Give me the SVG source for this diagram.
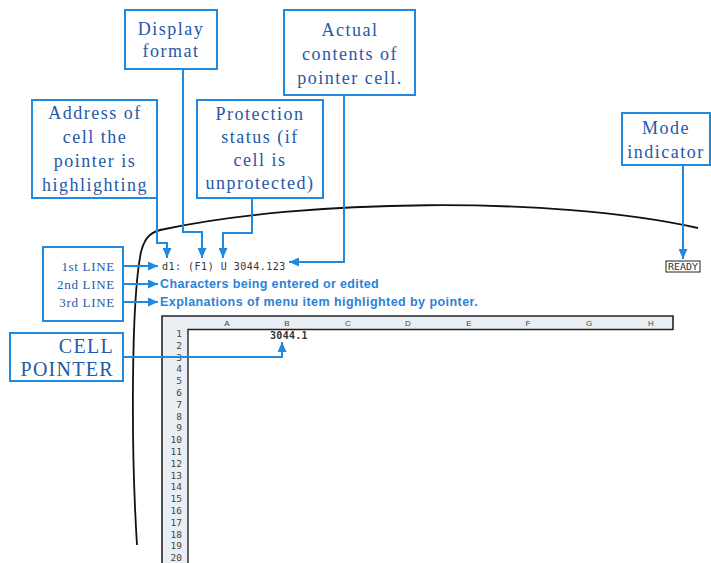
<svg xmlns="http://www.w3.org/2000/svg" width="711" height="563" viewBox="0 0 711 563">
<style>
.box{fill:#fff;stroke:#1f8ae0;stroke-width:2}
.lbl{font-family:"Liberation Serif","DejaVu Serif",serif;font-size:18px;letter-spacing:1.5px;fill:#2558a6;text-anchor:middle}
.ln{font-family:"Liberation Serif",serif;font-size:13px;letter-spacing:0.7px;fill:#2558a6;text-anchor:end}
.cp{font-family:"Liberation Serif",serif;font-size:20px;letter-spacing:1.3px;fill:#2558a6;text-anchor:end}
.con{fill:none;stroke:#1f8ae0;stroke-width:2}
.mono{font-family:"DejaVu Sans Mono","Liberation Mono",monospace;fill:#333}
.blue{font-family:"Liberation Sans",Arial,sans-serif;font-weight:bold;font-size:12.5px;letter-spacing:0.35px;fill:#2a82d6}
.col{font-family:"Liberation Sans",Arial,sans-serif;font-size:8px;fill:#444;text-anchor:middle}
.row{font-family:"DejaVu Sans Mono",monospace;font-size:9.5px;fill:#444;text-anchor:end}
</style>
<defs>
<marker id="ah" markerUnits="userSpaceOnUse" markerWidth="10" markerHeight="9" refX="10" refY="4.5" orient="auto">
<path d="M0,0 L10,4.5 L0,9 z" fill="#1f8ae0"/>
</marker>
</defs>
<rect width="711" height="563" fill="#fff"/>

<!-- screen edge -->
<path d="M137 545 C131 450 131 300 141 252 C145 236 152 231 165 229 C300 200 550 195 698 228" fill="none" stroke="#111" stroke-width="1.8"/>

<!-- spreadsheet -->
<g id="sheet">
<rect x="162" y="316" width="511" height="13.5" fill="#e9eef4"/>
<rect x="162" y="316" width="26" height="250" fill="#e9eef4"/>
<path d="M162 563 V316 H673 V330" fill="none" stroke="#222" stroke-width="1.6"/>
<path d="M188 563 V329.5 H673" fill="none" stroke="#222" stroke-width="1.4"/>
<text class="col" x="227" y="326">A</text>
<text class="col" x="287" y="326">B</text>
<text class="col" x="348" y="326">C</text>
<text class="col" x="408" y="326">D</text>
<text class="col" x="469" y="326">E</text>
<text class="col" x="528" y="326">F</text>
<text class="col" x="589" y="326">G</text>
<text class="col" x="651" y="326">H</text>
<text class="row" x="182" y="337">1</text>
<text class="row" x="182" y="348.8">2</text>
<text class="row" x="182" y="360.6">3</text>
<text class="row" x="182" y="372.4">4</text>
<text class="row" x="182" y="384.2">5</text>
<text class="row" x="182" y="396">6</text>
<text class="row" x="182" y="407.8">7</text>
<text class="row" x="182" y="419.6">8</text>
<text class="row" x="182" y="431.4">9</text>
<text class="row" x="182" y="443.2">10</text>
<text class="row" x="182" y="455">11</text>
<text class="row" x="182" y="466.8">12</text>
<text class="row" x="182" y="478.6">13</text>
<text class="row" x="182" y="490.4">14</text>
<text class="row" x="182" y="502.2">15</text>
<text class="row" x="182" y="514">16</text>
<text class="row" x="182" y="525.8">17</text>
<text class="row" x="182" y="537.6">18</text>
<text class="row" x="182" y="549.4">19</text>
<text class="row" x="182" y="561">20</text>
<text class="mono" x="270" y="339" font-size="10" letter-spacing="0.3" font-weight="bold">3044.1</text>
</g>

<!-- control panel lines -->
<text class="mono" x="162" y="270" font-size="10" letter-spacing="0.5">d1: (F1) U 3044.123</text>
<text class="blue" x="160" y="288" textLength="219">Characters being entered or edited</text>
<text class="blue" x="160" y="306" textLength="318">Explanations of menu item highlighted by pointer.</text>
<g id="ready">
<rect x="666" y="261" width="34" height="11" fill="#fff" stroke="#222" stroke-width="1"/>
<text class="mono" x="668" y="270" font-size="9" textLength="30" lengthAdjust="spacingAndGlyphs">READY</text>
</g>

<!-- connectors -->
<g id="connectors">
<path class="con" d="M157 198 V243 H167 V258" marker-end="url(#ah)"/>
<path class="con" d="M183 69 V232 H202 V258" marker-end="url(#ah)"/>
<path class="con" d="M252 198 V233 H223 V258" marker-end="url(#ah)"/>
<path class="con" d="M344 95 V262 H289" marker-end="url(#ah)"/>
<path class="con" d="M683 165 V259" marker-end="url(#ah)"/>
<path class="con" d="M123 266 H158" marker-end="url(#ah)"/>
<path class="con" d="M123 284 H158" marker-end="url(#ah)"/>
<path class="con" d="M123 302 H158" marker-end="url(#ah)"/>
<path class="con" d="M123 357 H282 V342" marker-end="url(#ah)"/>
</g>

<!-- nodes -->
<g id="display-format">
<rect class="box" x="125" y="10" width="92" height="59"/>
<text class="lbl" x="171" y="35">Display</text>
<text class="lbl" x="171" y="57">format</text>
</g>
<g id="actual-contents">
<rect class="box" x="284" y="10" width="131" height="85"/>
<text class="lbl" x="350" y="36">Actual</text>
<text class="lbl" x="350" y="60">contents of</text>
<text class="lbl" x="350" y="84">pointer cell.</text>
</g>
<g id="address">
<rect class="box" x="32" y="100" width="125" height="98"/>
<text class="lbl" x="95" y="119">Address of</text>
<text class="lbl" x="95" y="143">cell the</text>
<text class="lbl" x="95" y="167">pointer is</text>
<text class="lbl" x="95" y="191">highlighting</text>
</g>
<g id="protection">
<rect class="box" x="197" y="100" width="126" height="98"/>
<text class="lbl" x="260" y="120">Protection</text>
<text class="lbl" x="260" y="143">status (if</text>
<text class="lbl" x="260" y="166">cell is</text>
<text class="lbl" x="260" y="189">unprotected)</text>
</g>
<g id="mode-indicator">
<rect class="box" x="622" y="113" width="88" height="52"/>
<text class="lbl" x="666" y="134">Mode</text>
<text class="lbl" x="666" y="158">indicator</text>
</g>
<g id="lines">
<rect class="box" x="43" y="247" width="80" height="74"/>
<text class="ln" x="115" y="271">1st LINE</text>
<text class="ln" x="115" y="289">2nd LINE</text>
<text class="ln" x="115" y="307">3rd LINE</text>
</g>
<g id="cell-pointer">
<rect class="box" x="10" y="333" width="113" height="48"/>
<text class="cp" x="114" y="353">CELL</text>
<text class="cp" x="114" y="376">POINTER</text>
</g>
</svg>
